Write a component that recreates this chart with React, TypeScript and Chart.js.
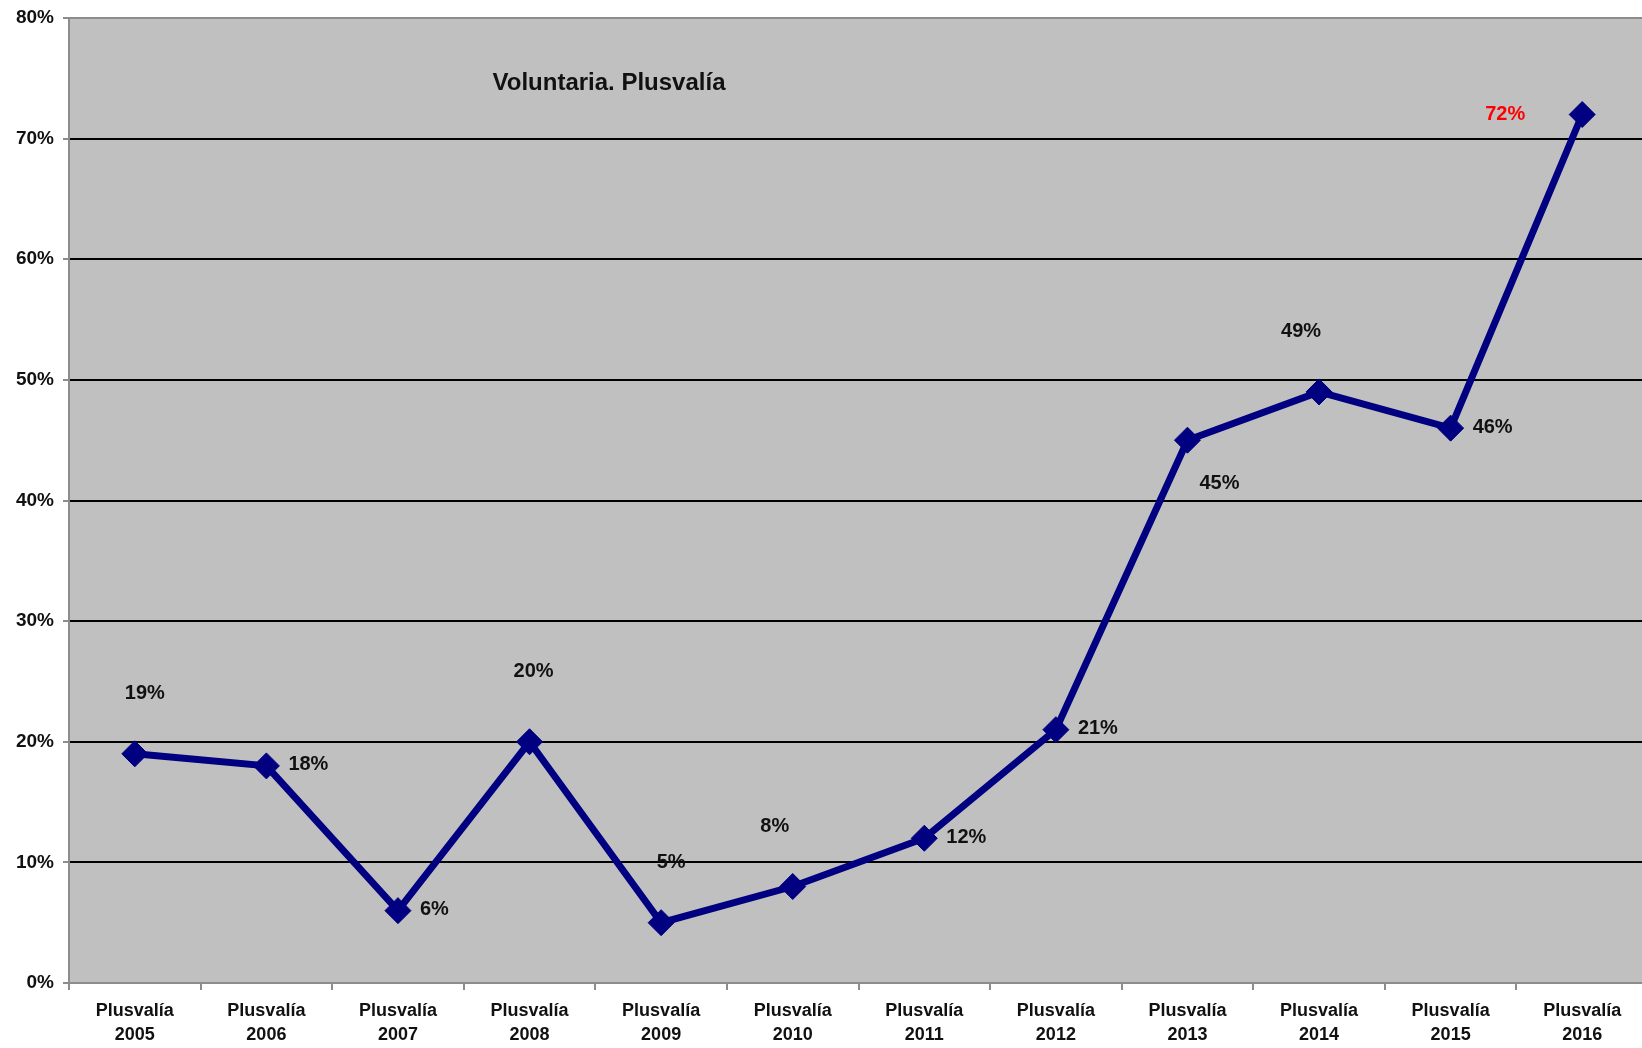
import React, { useEffect, useRef } from "react";
import { Chart, registerables } from "chart.js";

Chart.register(...registerables);

const categories: string[][] = [
  ["Plusvalía", "2005"], ["Plusvalía", "2006"], ["Plusvalía", "2007"], ["Plusvalía", "2008"],
  ["Plusvalía", "2009"], ["Plusvalía", "2010"], ["Plusvalía", "2011"], ["Plusvalía", "2012"],
  ["Plusvalía", "2013"], ["Plusvalía", "2014"], ["Plusvalía", "2015"], ["Plusvalía", "2016"],
];
const values: number[] = [19, 18, 6, 20, 5, 8, 12, 21, 45, 49, 46, 72];
const labelPlacement: string[] = [
  "aboveRight", "right", "right", "above", "aboveRight", "aboveLeft",
  "right", "right", "belowRight", "aboveLeft", "right", "left",
];
const labelColors: string[] = [
  "#111", "#111", "#111", "#111", "#111", "#111",
  "#111", "#111", "#111", "#111", "#111", "#ff0000",
];
const chartTitle = "Voluntaria. Plusvalía";
const yMin = 0;
const yMax = 80;
const yStep = 10;

const FONT = "'Liberation Sans', Arial, sans-serif";
const CANVAS_W = 1662;
const CANVAS_H = 1048;

const placements: Record<string, { dx: number; dy: number; align: CanvasTextAlign }> = {
  above: { dx: 4, dy: -70, align: "center" },
  aboveRight: { dx: 10, dy: -60, align: "center" },
  aboveLeft: { dx: -18, dy: -60, align: "center" },
  right: { dx: 22, dy: -1, align: "left" },
  left: { dx: -57, dy: 0, align: "right" },
  belowRight: { dx: 32, dy: 43, align: "center" },
};

const bgPlugin = {
  id: "plotBg",
  beforeDraw(chart: any) {
    const { ctx, chartArea } = chart;
    ctx.save();
    ctx.fillStyle = "#c0c0c0";
    ctx.fillRect(chartArea.left, chartArea.top, chartArea.right - chartArea.left, chartArea.bottom - chartArea.top);
    ctx.restore();
  },
};

const labelsPlugin = {
  id: "pointLabels",
  afterDatasetsDraw(chart: any) {
    const { ctx, chartArea } = chart;
    const meta = chart.getDatasetMeta(0);
    ctx.save();
    ctx.font = `bold 20px ${FONT}`;
    ctx.textBaseline = "middle";
    meta.data.forEach((pt: any, i: number) => {
      const p = placements[labelPlacement[i]] || placements.above;
      ctx.fillStyle = labelColors[i];
      ctx.textAlign = p.align;
      ctx.fillText(`${values[i]}%`, pt.x + p.dx, pt.y + p.dy);
    });
    ctx.font = `bold 24px ${FONT}`;
    ctx.fillStyle = "#111";
    ctx.textAlign = "center";
    const w = chartArea.right - chartArea.left;
    const h = chartArea.bottom - chartArea.top;
    ctx.fillText(chartTitle, chartArea.left + w * 0.342, chartArea.top + h * 0.068);
    ctx.restore();
  },
};

export default function App() {
  const ref = useRef<HTMLCanvasElement | null>(null);
  useEffect(() => {
    document.body.style.margin = "0";
    const canvas = ref.current;
    if (!canvas) return;
    const chart = new Chart(canvas, {
      type: "line",
      data: {
        labels: categories,
        datasets: [
          {
            data: values,
            borderColor: "#000080",
            backgroundColor: "#000080",
            borderWidth: 7,
            pointStyle: "rectRot",
            pointRadius: 13,
            pointBorderWidth: 1,
            pointBackgroundColor: "#000080",
            pointBorderColor: "#000080",
            tension: 0,
            fill: false,
          },
        ],
      },
      options: {
        animation: false,
        responsive: false,
        maintainAspectRatio: false,
        layout: { padding: { top: 18, right: 0, left: 0, bottom: 0 } },
        plugins: { legend: { display: false }, title: { display: false }, tooltip: { enabled: false } },
        scales: {
          x: {
            type: "category",
            offset: true,
            grid: {
              offset: true,
              drawOnChartArea: false,
              drawTicks: true,
              tickLength: 7,
              tickColor: "#8c8c8c",
              lineWidth: 2,
            },
            border: { display: true, color: "#8c8c8c", width: 2 },
            ticks: {
              color: "#111",
              font: { family: FONT, size: 18, weight: "bold", lineHeight: 1.28 },
              padding: 10,
              maxRotation: 0,
              autoSkip: false,
            },
            afterFit(scale: any) {
              scale.height = 65;
              scale.paddingLeft = 0;
              scale.paddingRight = 0;
            },
          },
          y: {
            min: yMin,
            max: yMax,
            grid: {
              color: (c: any) => (c.tick && (c.tick.value === yMin || c.tick.value === yMax) ? "#8c8c8c" : "#000"),
              lineWidth: 2,
              tickLength: 6,
              tickColor: "#8c8c8c",
            },
            border: { display: true, color: "#8c8c8c", width: 2 },
            ticks: {
              stepSize: yStep,
              color: "#111",
              padding: 9,
              font: { family: FONT, size: 19, weight: "bold" },
              callback: (v: any) => `${v}%`,
            },
            afterFit(scale: any) {
              scale.width = 69;
              scale.paddingTop = 0;
              scale.paddingBottom = 0;
            },
          },
        },
      },
      plugins: [bgPlugin, labelsPlugin],
    });
    return () => chart.destroy();
  }, []);
  return (
    <div style={{ position: "absolute", left: 0, top: 0, width: 1642, height: 1048, overflow: "hidden", background: "#fff" }}>
      <canvas ref={ref} width={CANVAS_W} height={CANVAS_H} style={{ display: "block", width: CANVAS_W, height: CANVAS_H }} />
    </div>
  );
}
